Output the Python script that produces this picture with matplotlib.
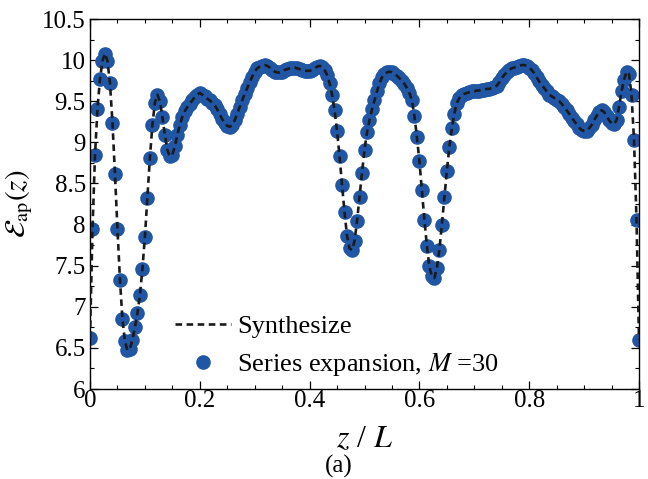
import numpy as np
import matplotlib
matplotlib.use('Agg')
import matplotlib.pyplot as plt

# permittivity profile, 221 samples over z/L in [0, 1]
eps_ap = [
    6.62, 7.95, 8.84, 9.41, 9.77, 9.99, 10.08, 9.99, 9.72, 9.24,
    8.62, 7.95, 7.33, 6.85, 6.58, 6.47, 6.49, 6.60, 6.75, 6.92,
    7.14, 7.46, 7.85, 8.32, 8.81, 9.21, 9.48, 9.58, 9.50, 9.31,
    9.09, 8.91, 8.83, 8.85, 8.95, 9.09, 9.21, 9.31, 9.38, 9.43,
    9.47, 9.51, 9.55, 9.58, 9.60, 9.58, 9.56, 9.53, 9.51, 9.48,
    9.45, 9.40, 9.34, 9.28, 9.23, 9.20, 9.19, 9.21, 9.27, 9.35,
    9.43, 9.51, 9.59, 9.66, 9.73, 9.80, 9.86, 9.90, 9.92, 9.93,
    9.94, 9.93, 9.91, 9.88, 9.86, 9.85, 9.85, 9.86, 9.88, 9.89,
    9.90, 9.91, 9.91, 9.90, 9.89, 9.88, 9.87, 9.87, 9.87, 9.88,
    9.90, 9.92, 9.93, 9.92, 9.88, 9.82, 9.72, 9.58, 9.39, 9.14,
    8.83, 8.48, 8.15, 7.86, 7.71, 7.69, 7.80, 8.04, 8.34, 8.63,
    8.91, 9.12, 9.27, 9.40, 9.51, 9.62, 9.72, 9.79, 9.83, 9.85,
    9.86, 9.85, 9.83, 9.81, 9.78, 9.75, 9.71, 9.66, 9.60, 9.51,
    9.32, 9.07, 8.77, 8.42, 8.06, 7.74, 7.49, 7.37, 7.35, 7.47,
    7.69, 8.00, 8.33, 8.65, 8.94, 9.17, 9.35, 9.48, 9.54, 9.57,
    9.59, 9.60, 9.61, 9.62, 9.62, 9.63, 9.63, 9.64, 9.64, 9.65,
    9.65, 9.66, 9.67, 9.69, 9.73, 9.78, 9.82, 9.85, 9.88, 9.90,
    9.91, 9.92, 9.93, 9.94, 9.94, 9.93, 9.91, 9.88, 9.84, 9.79,
    9.74, 9.70, 9.66, 9.62, 9.58, 9.56, 9.54, 9.52, 9.50, 9.47,
    9.43, 9.39, 9.35, 9.30, 9.26, 9.22, 9.18, 9.15, 9.14, 9.14,
    9.17, 9.21, 9.27, 9.32, 9.37, 9.39, 9.37, 9.32, 9.27, 9.23,
    9.22, 9.27, 9.43, 9.62, 9.76, 9.86, 9.83, 9.58, 9.03, 8.06,
    6.60,
]
z_over_L = np.linspace(0, 1, len(eps_ap))

x_ticks = [0, 0.2, 0.4, 0.6, 0.8, 1]
x_labels = ['0', '0.2', '0.4', '0.6', '0.8', '1']
y_ticks = [6, 6.5, 7, 7.5, 8, 8.5, 9, 9.5, 10, 10.5]
y_labels = ['6', '6.5', '7', '7.5', '8', '8.5', '9', '9.5', '10', '10.5']

plt.rcParams['font.family'] = ['Liberation Serif', 'DejaVu Serif']
plt.rcParams['mathtext.fontset'] = 'stix'

fig = plt.figure(figsize=(6.48, 4.79), dpi=100)
ax = fig.add_axes([90 / 648, 1 - 389 / 479, 549 / 648, 370 / 479])

ax.plot(z_over_L, eps_ap, 'o', color='#2156a5', ms=9.5, mec='#2156a5',
        label=r'Series expansion, $M$ =30', zorder=2)
ax.plot(z_over_L, eps_ap, '--', color='#1a1a1a', lw=1.9, dashes=(2.5, 1.7),
        label='Synthesize', zorder=3)

ax.set_xlim(0, 1)
ax.set_ylim(6, 10.5)
ax.set_xticks(x_ticks)
ax.set_xticklabels(x_labels)
ax.set_yticks(y_ticks)
ax.set_yticklabels(y_labels)
ax.set_xticks(np.arange(0, 1.0001, 0.05), minor=True)
ax.set_yticks(np.arange(6, 10.501, 0.25), minor=True)
ax.tick_params(which='both', direction='in', top=True, right=True,
               labelsize=18)
ax.tick_params(axis='x', pad=1)
ax.tick_params(axis='y', pad=3)
ax.tick_params(which='major', length=6, width=0.9)
ax.tick_params(which='minor', length=3, width=0.8)
for s in ax.spines.values():
    s.set_linewidth(1.0)

ax.set_xlabel(r'$z$ / $L$', fontsize=23, labelpad=9)
ax.set_ylabel(r'$\mathcal{E}_{\rm ap}(z)$', fontsize=21, labelpad=5)

handles, labels = ax.get_legend_handles_labels()
ax.legend(handles[::-1], labels[::-1], loc='lower left',
          bbox_to_anchor=(0.135, 0.0), frameon=False, fontsize=19,
          handlelength=2.15, handletextpad=0.23, labelspacing=0.5,
          borderaxespad=0.0)

fig.text(339 / 648, 1 - 466 / 479, '(a)', ha='center', va='center', fontsize=18)

fig.savefig('out.png', dpi=100)
